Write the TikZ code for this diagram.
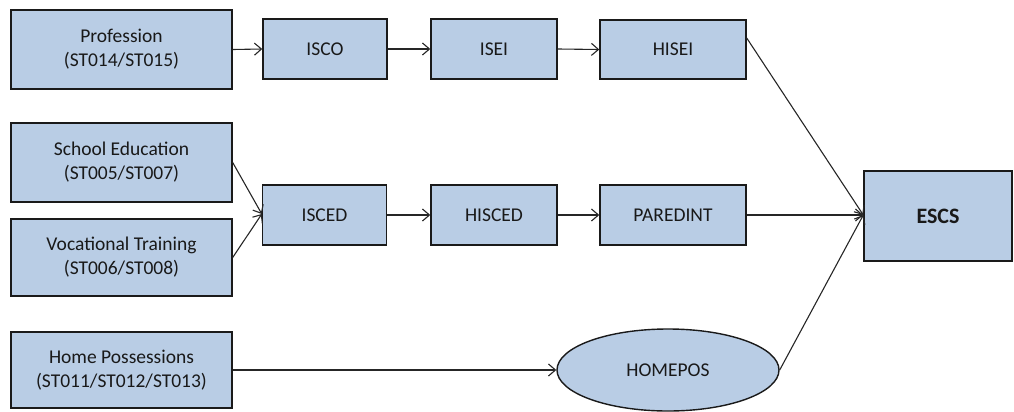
\documentclass[tikz,border=0pt]{standalone}
\usepackage{fontspec}
\setmainfont{Carlito}
\usetikzlibrary{arrows.meta,shapes.geometric,calc}
\definecolor{boxfill}{HTML}{B9CDE5}
\definecolor{boxline}{HTML}{1A1A1A}
\tikzset{
  box/.style={draw=boxline,fill=boxfill,line width=1.4pt,rectangle,inner sep=0pt,align=center,
    font=\fontsize{19.5}{24}\selectfont,text=black!90},
  oval/.style={draw=boxline,fill=boxfill,line width=1.4pt,ellipse,inner sep=0pt,
    font=\fontsize{19.5}{24}\selectfont,text=black!90},
  conn/.style={draw=black!85,line width=1.1pt,-{Straight Barb[length=7pt,width=12pt,line width=1.1pt]}}
}
\begin{document}
\begin{tikzpicture}[x=1pt,y=-1pt]
\useasboundingbox (0,0) rectangle (1014,412);
\node[box,minimum width=221pt,minimum height=79pt] (prof) at (121.5,49.5) {Profession\\(ST014/ST015)};
\node[box,minimum width=221pt,minimum height=79pt] (school) at (121.5,162.5) {School Education\\(ST005/ST007)};
\node[box,minimum width=221pt,minimum height=77pt] (voc) at (121.5,257.5) {Vocational Training\\(ST006/ST008)};
\node[box,minimum width=221pt,minimum height=76pt] (home) at (121.5,370) {Home Possessions\\(ST011/ST012/ST013)};
\node[box,minimum width=124pt,minimum height=60pt] (isco) at (325,49) {ISCO};
\node[box,minimum width=126pt,minimum height=60pt] (isei) at (494,49) {ISEI};
\node[box,minimum width=146pt,minimum height=59pt] (hisei) at (673,49.5) {HISEI};
\node[box,minimum width=124pt,minimum height=60pt] (isced) at (324.5,215) {ISCED};
\node[box,minimum width=126pt,minimum height=60pt] (hisced) at (494,215) {HISCED};
\node[box,minimum width=146pt,minimum height=60pt] (paredint) at (673,215) {PAREDINT};
\node[box,minimum width=148pt,minimum height=90pt,font=\fontsize{22}{26}\selectfont\bfseries] (escs) at (938,216) {ESCS};
\node[oval,minimum width=222pt,minimum height=82pt] (homepos) at (668,370) {HOMEPOS};
\draw[conn] (prof.east) -- (isco.west);
\draw[conn] (isco.east) -- (isei.west);
\draw[conn] (isei.east) -- (hisei.west);
\draw[conn] ($(hisei.east)+(0,-11.5)$) -- ($(escs.west)+(0,-1)$);
\draw[conn] (school.east) -- ($(isced.west)+(0,-1)$);
\draw[conn] (voc.east) -- ($(isced.west)+(0,-1)$);
\draw[conn] (isced.east) -- (hisced.west);
\draw[conn] (hisced.east) -- (paredint.west);
\draw[conn] (paredint.east) -- ($(escs.west)+(0,-1)$);
\draw[conn] (home.east) -- (homepos.west);
\draw[conn] (homepos.east) -- ($(escs.west)+(0,-1)$);
\end{tikzpicture}
\end{document}
